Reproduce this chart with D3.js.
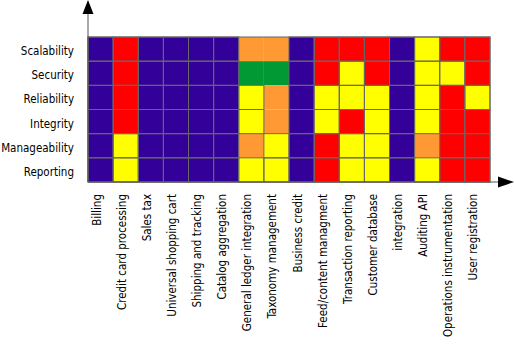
<!DOCTYPE html>
<html>
<head>
<meta charset="utf-8">
<script src="https://cdn.jsdelivr.net/npm/d3@7"></script>
<style>
  body { margin: 0; background: #fff; }
  svg text { font-family: "DejaVu Sans Condensed", "DejaVu Sans", sans-serif; font-size: 11.5px; fill: #000; }
</style>
</head>
<body>
<div id="chart"></div>
<script>
// feature columns and quality rows
var features = ["Billing", "Credit card processing", "Sales tax", "Universal shopping cart",
    "Shipping and tracking", "Catalog aggregation", "General ledger integration",
    "Taxonomy management", "Business credit", "Feed/content managment",
    "Transaction reporting", "Customer database", "integration", "Auditing API",
    "Operations instrumentation", "User registration"];

var qualities = ["Scalability", "Security", "Reliability", "Integrity", "Manageability", "Reporting"];

// rating per feature: 0 = n/a, 1 = poor, 2 = fair, 3 = good, 4 = excellent
var scalability   = [0, 1, 0, 0, 0, 0, 2, 2, 0, 1, 1, 1, 0, 3, 1, 1];
var security      = [0, 1, 0, 0, 0, 0, 4, 4, 0, 1, 3, 1, 0, 3, 3, 1];
var reliability   = [0, 1, 0, 0, 0, 0, 3, 2, 0, 3, 3, 3, 0, 3, 1, 3];
var integrity     = [0, 1, 0, 0, 0, 0, 3, 2, 0, 3, 1, 3, 0, 3, 1, 1];
var manageability = [0, 3, 0, 0, 0, 0, 2, 3, 0, 1, 3, 3, 0, 2, 1, 1];
var reporting     = [0, 3, 0, 0, 0, 0, 3, 3, 0, 1, 3, 3, 0, 3, 1, 1];

var ratingRows = [scalability, security, reliability, integrity, manageability, reporting];

var svgWidth = 514;
var svgHeight = 345;

var margin = { top: 37, left: 88, right: 24, bottom: 163 };

var svg = d3.select("#chart")
    .append("svg")
    .attr("width", svgWidth)
    .attr("height", svgHeight);

var x = d3.scaleBand()
    .domain(features)
    .range([margin.left, svgWidth - margin.right]);

var y = d3.scaleBand()
    .domain(qualities)
    .range([margin.top, svgHeight - margin.bottom]);

var color = d3.scaleOrdinal()
    .domain([0, 1, 2, 3, 4])
    .range(["#330099", "#ff0000", "#ff9933", "#ffff00", "#009933"]);

// flatten rows into cells
var cells = [];
ratingRows.forEach(function (row, i) {
    row.forEach(function (v, j) {
        cells.push({ quality: qualities[i], feature: features[j], value: v });
    });
});

var grid = svg.append("g");

grid.selectAll("rect.fill")
    .data(cells)
    .enter()
    .append("rect")
    .attr("class", "fill")
    .attr("x", d => x(d.feature))
    .attr("y", d => y(d.quality))
    .attr("width", x.bandwidth())
    .attr("height", y.bandwidth())
    .style("fill", d => color(d.value));

// orange and green cells are drawn without a border
grid.selectAll("rect.edge")
    .data(cells.filter(d => d.value !== 2 && d.value !== 4))
    .enter()
    .append("rect")
    .attr("class", "edge")
    .attr("x", d => x(d.feature))
    .attr("y", d => y(d.quality))
    .attr("width", x.bandwidth())
    .attr("height", y.bandwidth())
    .style("fill", "none")
    .style("stroke", "#666")
    .style("stroke-width", 1);

// outer frame
grid.append("rect")
    .attr("x", x.range()[0])
    .attr("y", y.range()[0])
    .attr("width", x.range()[1] - x.range()[0])
    .attr("height", y.range()[1] - y.range()[0])
    .style("fill", "none")
    .style("stroke", "#666")
    .style("stroke-width", 1);

// row labels
var yAxis = d3.axisLeft(y).tickSize(0).tickPadding(14);
svg.append("g")
    .attr("transform", `translate(${margin.left}, 0)`)
    .call(yAxis)
    .call(g => g.select(".domain").remove())
    .selectAll("text")
    .attr("dy", "0.52em")
    .style("font-size", "11.5px");

// column labels, rotated
var baseY = y.range()[1];
var xAxis = d3.axisBottom(x).tickSize(0);
svg.append("g")
    .attr("transform", `translate(0, ${baseY})`)
    .call(xAxis)
    .call(g => g.select(".domain").remove())
    .selectAll("text")
    .attr("transform", "rotate(-90)")
    .attr("text-anchor", "end")
    .attr("x", -12)
    .attr("y", -4)
    .attr("dy", "0.35em")
    .style("font-size", "11.5px");

// d3 axes set their own font on the group; let the stylesheet win
svg.selectAll(".tick").each(function () {
    d3.select(this.parentNode).attr("font-family", null).attr("font-size", null);
});

// axis lines with arrowheads
var axisColor = "#555";
svg.append("line")
    .attr("x1", margin.left).attr("x2", margin.left)
    .attr("y1", 13).attr("y2", baseY)
    .style("stroke", axisColor).style("stroke-width", 1);

svg.append("line")
    .attr("x1", margin.left).attr("x2", 499)
    .attr("y1", baseY).attr("y2", baseY)
    .style("stroke", axisColor).style("stroke-width", 1);

svg.append("path")
    .attr("d", `M${margin.left},0 L${margin.left - 5.5},14 L${margin.left + 5.5},14 Z`)
    .style("fill", "#000");

svg.append("path")
    .attr("d", `M514,${baseY} L498,${baseY - 5.5} L498,${baseY + 5.5} Z`)
    .style("fill", "#000");
</script>
</body>
</html>
